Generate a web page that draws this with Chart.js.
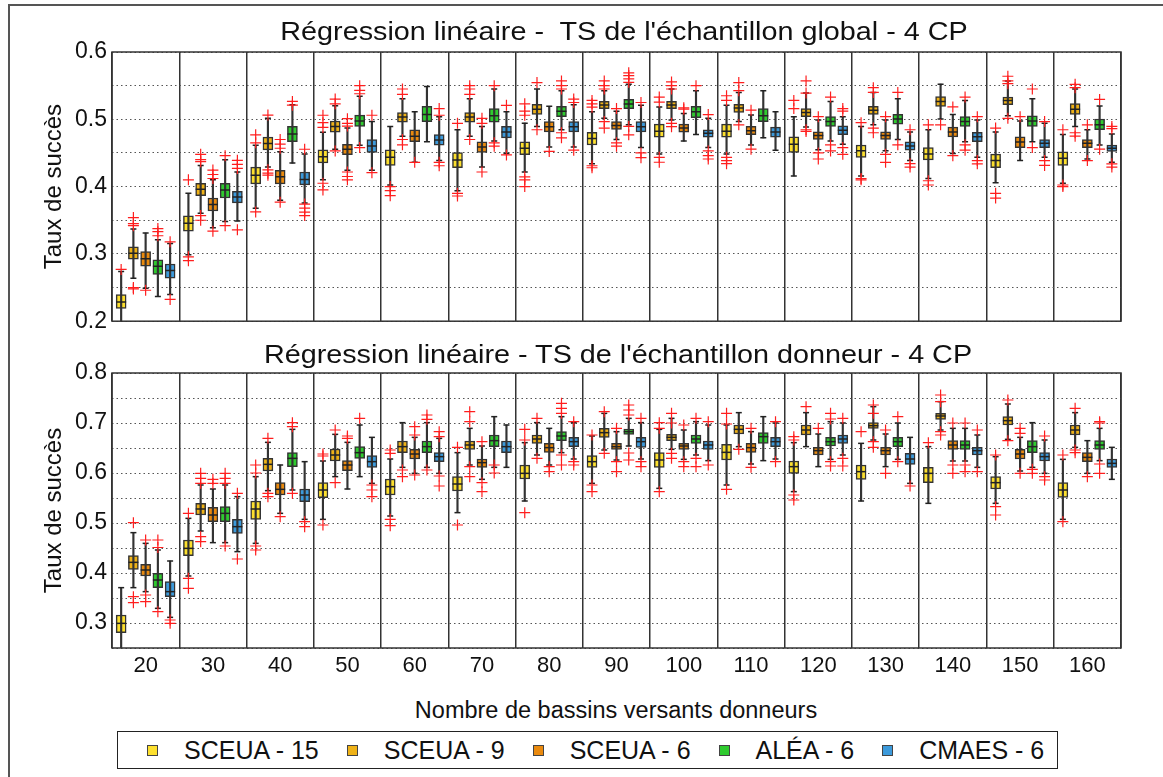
<!DOCTYPE html>
<html>
<head>
<meta charset="utf-8">
<script src="https://cdn.jsdelivr.net/npm/chart.js@4.4.0/dist/chart.umd.min.js"></script>
<style>
  html, body { margin:0; padding:0; background:#fff; width:1163px; height:777px; overflow:hidden; position:relative;
    font-family:'Liberation Sans', Arial, sans-serif; color:#111; }
  #frame { position:absolute; left:8px; top:4px; width:1180px; height:800px; border:2px solid #555; }
  canvas { position:absolute; left:0; }
  .title { position:absolute; white-space:pre; font-size:25px; line-height:29px; transform:translateX(-50%) scaleX(1.15); }
  #xlabel { position:absolute; left:616px; top:697px; font-size:23.5px; line-height:27px; white-space:pre; transform:translateX(-50%); }
  #legend { position:absolute; left:117px; top:731px; width:941px; height:38px; box-sizing:border-box; border:1.5px solid #222;
    display:flex; align-items:center; padding-left:29px; background:#fff; }
  #legend .item { display:flex; align-items:center; margin-right:28px; font-size:25px; white-space:pre; }
  #legend .item i { display:block; width:11px; height:11px; box-sizing:border-box; border:1px solid #444; margin-right:26px; }
</style>
</head>
<body>
<div id="frame"></div>
<canvas id="topChart" width="1163" height="340" style="top:0"></canvas>
<canvas id="bottomChart" width="1163" height="340" style="top:340px"></canvas>
<div class="title" style="left:624px; top:17px">Régression linéaire -  TS de l'échantillon global - 4 CP</div>
<div class="title" style="left:618px; top:340px">Régression linéaire - TS de l'échantillon donneur - 4 CP</div>
<div id="xlabel">Nombre de bassins versants donneurs</div>
<div id="legend"></div>

<script>
// groups and series
const groups = ['20', '30', '40', '50', '60', '70', '80', '90', '100', '110', '120', '130', '140', '150', '160'];
const seriesNames = ['SCEUA - 15', 'SCEUA - 9', 'SCEUA - 6', 'ALÉA - 6', 'CMAES - 6'];
const seriesColors = ['#fde02e', '#efb217', '#ea8a0e', '#2fcb2f', '#3c9adb'];

const topTicks = [0.2, 0.3, 0.4, 0.5, 0.6];
const bottomTicks = [0.3, 0.4, 0.5, 0.6, 0.7, 0.8];

// top panel : TS de l'échantillon global (one row per series, one value per group)
const topLow = [
  [0.19, 0.2986, 0.3677, 0.41, 0.4024, 0.3937, 0.4217, 0.4338, 0.4483, 0.4483, 0.4159, 0.4159, 0.4121, 0.4058, 0.4048],
  [0.2638, 0.3604, 0.429, 0.4555, 0.4749, 0.4749, 0.4894, 0.5014, 0.499, 0.4966, 0.4884, 0.4918, 0.5005, 0.5053, 0.4894],
  [0.249, 0.3387, 0.3797, 0.4242, 0.4362, 0.429, 0.4589, 0.47, 0.4676, 0.4618, 0.4546, 0.4531, 0.4493, 0.4386, 0.441],
  [0.2367, 0.348, 0.435, 0.4613, 0.4667, 0.4676, 0.4845, 0.4918, 0.4773, 0.4725, 0.4676, 0.47, 0.4667, 0.4667, 0.4618],
  [0.2396, 0.349, 0.3758, 0.4242, 0.4386, 0.4493, 0.4589, 0.458, 0.458, 0.4541, 0.4628, 0.4386, 0.4435, 0.4435, 0.4362]
];
const topQ1 = [
  [0.219, 0.3338, 0.404, 0.4352, 0.4314, 0.428, 0.4473, 0.4618, 0.4734, 0.4734, 0.4507, 0.4435, 0.4396, 0.428, 0.4314],
  [0.2923, 0.3865, 0.4546, 0.4807, 0.4957, 0.4957, 0.5072, 0.5159, 0.5159, 0.5101, 0.5039, 0.5072, 0.5193, 0.5217, 0.5072],
  [0.2816, 0.3638, 0.404, 0.4474, 0.4667, 0.4507, 0.4812, 0.485, 0.4807, 0.4773, 0.47, 0.47, 0.4739, 0.458, 0.458],
  [0.2696, 0.383, 0.4667, 0.4894, 0.4966, 0.4957, 0.5039, 0.5159, 0.5024, 0.4966, 0.4894, 0.4928, 0.4894, 0.4894, 0.4845],
  [0.2638, 0.3758, 0.4025, 0.4507, 0.4614, 0.4725, 0.4812, 0.4812, 0.4734, 0.4734, 0.4773, 0.4541, 0.4667, 0.458, 0.4522]
];
const topMed = [
  [0.2286, 0.3454, 0.417, 0.4445, 0.4435, 0.4396, 0.457, 0.4715, 0.4821, 0.4821, 0.4628, 0.4531, 0.4483, 0.4386, 0.442],
  [0.301, 0.396, 0.4642, 0.4894, 0.5034, 0.5034, 0.515, 0.5213, 0.5213, 0.5169, 0.5101, 0.5135, 0.5266, 0.528, 0.515],
  [0.2928, 0.3735, 0.4145, 0.4555, 0.4749, 0.4589, 0.4889, 0.4908, 0.487, 0.4831, 0.4758, 0.4758, 0.4812, 0.4662, 0.4643],
  [0.2816, 0.395, 0.478, 0.4975, 0.5072, 0.5053, 0.5121, 0.5227, 0.5111, 0.5053, 0.4966, 0.5005, 0.4966, 0.4976, 0.4918],
  [0.2754, 0.3845, 0.4106, 0.4604, 0.4691, 0.4812, 0.4889, 0.4889, 0.4792, 0.4812, 0.4836, 0.4604, 0.4739, 0.4643, 0.457]
];
const topQ3 = [
  [0.2396, 0.3565, 0.429, 0.4546, 0.4546, 0.4507, 0.4667, 0.4807, 0.4928, 0.4928, 0.4739, 0.4618, 0.458, 0.4483, 0.4517],
  [0.3106, 0.4048, 0.4735, 0.4975, 0.5101, 0.5101, 0.5222, 0.5266, 0.5266, 0.5222, 0.5159, 0.5193, 0.5338, 0.5329, 0.5232],
  [0.3033, 0.383, 0.4242, 0.4628, 0.4845, 0.4667, 0.4966, 0.4966, 0.4928, 0.4894, 0.4812, 0.4812, 0.4884, 0.4739, 0.47],
  [0.2913, 0.4048, 0.4894, 0.5063, 0.5193, 0.5159, 0.5193, 0.5295, 0.5193, 0.5159, 0.5039, 0.5072, 0.5039, 0.5053, 0.5005],
  [0.285, 0.3928, 0.4217, 0.47, 0.4773, 0.4894, 0.4966, 0.4966, 0.4845, 0.4884, 0.4903, 0.4667, 0.4807, 0.47, 0.4618]
];
const topHigh = [
  [0.274, 0.39, 0.4613, 0.4807, 0.4894, 0.4845, 0.4942, 0.5111, 0.5184, 0.5208, 0.5039, 0.4894, 0.4845, 0.4812, 0.4773],
  [0.337, 0.4314, 0.5014, 0.52, 0.5304, 0.5304, 0.5449, 0.5425, 0.5449, 0.54, 0.5391, 0.54, 0.5522, 0.557, 0.5449],
  [0.331, 0.41, 0.4517, 0.487, 0.5111, 0.4894, 0.5193, 0.5121, 0.5087, 0.5063, 0.499, 0.499, 0.5072, 0.4976, 0.4845],
  [0.321, 0.44, 0.5217, 0.5343, 0.5488, 0.5449, 0.5425, 0.5522, 0.5425, 0.5425, 0.5266, 0.5304, 0.528, 0.5304, 0.5198],
  [0.3155, 0.4217, 0.4483, 0.4967, 0.5039, 0.5111, 0.5217, 0.5208, 0.5014, 0.5111, 0.5039, 0.4812, 0.499, 0.4942, 0.4783]
];
const topOut = [
  [[0.277], [0.41, 0.2957, 0.29], [0.477, 0.465, 0.3623], [0.506, 0.495, 0.488, 0.405, 0.395], [0.4, 0.394, 0.3865],
   [0.494, 0.39, 0.386], [0.523, 0.512, 0.506, 0.4145, 0.41, 0.4], [0.528, 0.523, 0.518, 0.431, 0.428], [0.533, 0.5256, 0.4435, 0.4362],
   [0.535, 0.528, 0.4435, 0.4386, 0.434], [0.528, 0.516], [0.495, 0.412, 0.41], [0.4918, 0.4087, 0.4024], [0.487, 0.39, 0.383], [0.4845, 0.4024, 0.4]],
  [[0.354, 0.345, 0.342, 0.25, 0.248], [0.448, 0.44, 0.437, 0.357, 0.35], [0.5063, 0.425, 0.42, 0.417], [0.53, 0.523, 0.453], [0.545, 0.537, 0.47, 0.462],
   [0.55, 0.545, 0.537, 0.47], [0.5546, 0.4845], [0.557, 0.55, 0.545, 0.4966, 0.487], [0.5556, 0.55, 0.545, 0.494, 0.489],
   [0.5546, 0.5425, 0.4918], [0.557, 0.539, 0.4845, 0.482], [0.547, 0.54, 0.487, 0.48], [0.4918], [0.564, 0.557, 0.553, 0.5014], [0.552, 0.547, 0.48, 0.475]],
  [[0.246], [0.4246, 0.418, 0.412, 0.3338], [0.47, 0.463, 0.457, 0.3768], [0.501, 0.494, 0.49, 0.4217, 0.415, 0.41], [0.436],
   [0.5014, 0.494, 0.4217], [0.4522], [0.516, 0.465, 0.46], [0.517, 0.515], [0.5135, 0.4556], [0.5039, 0.45, 0.441],
   [0.5039, 0.448, 0.436], [0.5184, 0.4459], [0.5039], [0.4918, 0.4386]],
  [[0.3377, 0.333, 0.327], [0.446, 0.342], [0.5265, 0.521], [0.55, 0.543, 0.538, 0.458], [], [0.55, 0.465, 0.46],
   [0.557, 0.55, 0.545, 0.48, 0.4725], [0.569, 0.565, 0.56, 0.555, 0.4894, 0.477], [0.55], [], [0.533, 0.462, 0.453],
   [0.54, 0.462], [0.533, 0.462, 0.4541], [0.545, 0.458], [0.5295, 0.4556]],
  [[0.318, 0.2323], [0.439, 0.433, 0.427, 0.3358], [0.4555, 0.374, 0.368, 0.362, 0.357], [0.506, 0.4207], [0.516, 0.506, 0.436, 0.431],
   [0.5208, 0.447], [0.53, 0.525, 0.4541], [0.525, 0.45, 0.443], [0.507, 0.453, 0.446, 0.441], [], [0.516, 0.512, 0.458, 0.448],
   [0.4845, 0.434, 0.429], [0.5039, 0.4386, 0.4338], [0.4966, 0.4386, 0.4314], [0.4894, 0.486, 0.4338, 0.429]]
];

// bottom panel : TS de l'échantillon donneur
const botLow = [
  [0.24, 0.394, 0.4593, 0.5073, 0.514, 0.5207, 0.544, 0.5793, 0.5693, 0.576, 0.5627, 0.544, 0.5393, 0.5393, 0.5073],
  [0.3707, 0.484, 0.5647, 0.5927, 0.6113, 0.616, 0.636, 0.646, 0.6473, 0.6527, 0.6527, 0.666, 0.686, 0.6673, 0.6513],
  [0.3627, 0.4607, 0.5193, 0.568, 0.5993, 0.5873, 0.616, 0.626, 0.6273, 0.618, 0.6127, 0.6127, 0.624, 0.604, 0.5993],
  [0.3293, 0.4607, 0.566, 0.5927, 0.6113, 0.6113, 0.6407, 0.654, 0.636, 0.6247, 0.6273, 0.6273, 0.624, 0.6113, 0.6247],
  [0.3113, 0.4427, 0.5073, 0.5793, 0.5993, 0.6113, 0.628, 0.628, 0.6247, 0.628, 0.636, 0.5793, 0.6113, 0.5993, 0.5873]
];
const botQ1 = [
  [0.2807, 0.4347, 0.5073, 0.5507, 0.556, 0.564, 0.588, 0.6113, 0.6113, 0.626, 0.5993, 0.5873, 0.5807, 0.568, 0.5513],
  [0.4073, 0.516, 0.604, 0.624, 0.6407, 0.6473, 0.6593, 0.6713, 0.6647, 0.678, 0.676, 0.6893, 0.7073, 0.696, 0.676],
  [0.394, 0.5027, 0.556, 0.6047, 0.628, 0.6113, 0.6413, 0.6473, 0.6473, 0.6413, 0.636, 0.636, 0.6473, 0.628, 0.6227],
  [0.3707, 0.5027, 0.6127, 0.6293, 0.6407, 0.6527, 0.6647, 0.6773, 0.6593, 0.6593, 0.654, 0.6527, 0.6473, 0.6407, 0.6473],
  [0.3527, 0.4793, 0.5427, 0.6113, 0.6227, 0.6407, 0.6527, 0.6513, 0.6473, 0.6527, 0.6593, 0.6173, 0.636, 0.624, 0.6113]
];
const botMed = [
  [0.2993, 0.4493, 0.528, 0.566, 0.5727, 0.578, 0.5993, 0.6227, 0.626, 0.6413, 0.6127, 0.6027, 0.5993, 0.5807, 0.566],
  [0.4213, 0.528, 0.6173, 0.636, 0.6527, 0.656, 0.668, 0.6807, 0.6713, 0.6873, 0.686, 0.6947, 0.714, 0.7047, 0.686],
  [0.406, 0.516, 0.5673, 0.616, 0.638, 0.6207, 0.6507, 0.6527, 0.654, 0.6507, 0.6447, 0.6447, 0.656, 0.638, 0.6313],
  [0.386, 0.5193, 0.6293, 0.6407, 0.6527, 0.6647, 0.674, 0.6827, 0.668, 0.6727, 0.6627, 0.6627, 0.656, 0.6527, 0.656],
  [0.3627, 0.4927, 0.556, 0.6227, 0.6327, 0.6527, 0.6627, 0.6627, 0.656, 0.6627, 0.668, 0.628, 0.6447, 0.6327, 0.6193]
];
const botQ3 = [
  [0.316, 0.466, 0.544, 0.5807, 0.588, 0.5927, 0.616, 0.6347, 0.6407, 0.6573, 0.624, 0.616, 0.6113, 0.5927, 0.5807],
  [0.4347, 0.5393, 0.6293, 0.648, 0.664, 0.664, 0.676, 0.6893, 0.6773, 0.696, 0.696, 0.7007, 0.7193, 0.7127, 0.696],
  [0.4173, 0.5313, 0.5807, 0.6247, 0.6473, 0.628, 0.6593, 0.6593, 0.6593, 0.6593, 0.6513, 0.6513, 0.6647, 0.6473, 0.6407],
  [0.3993, 0.5327, 0.6407, 0.6527, 0.664, 0.676, 0.6827, 0.688, 0.676, 0.6807, 0.6713, 0.6713, 0.6647, 0.6647, 0.6647],
  [0.3827, 0.5073, 0.568, 0.6347, 0.6407, 0.664, 0.6713, 0.6713, 0.664, 0.6713, 0.676, 0.6393, 0.6513, 0.6407, 0.628]
];
const botHigh = [
  [0.3707, 0.5093, 0.5927, 0.624, 0.628, 0.6407, 0.6607, 0.674, 0.6873, 0.696, 0.6607, 0.6593, 0.6527, 0.6327, 0.6273],
  [0.4807, 0.576, 0.6613, 0.6773, 0.7007, 0.6893, 0.7007, 0.7193, 0.7093, 0.7207, 0.7207, 0.7327, 0.7427, 0.738, 0.7207],
  [0.4593, 0.568, 0.616, 0.6613, 0.6713, 0.654, 0.6893, 0.6827, 0.686, 0.6827, 0.678, 0.678, 0.6893, 0.6713, 0.6647],
  [0.446, 0.576, 0.6873, 0.696, 0.7007, 0.7127, 0.7127, 0.7093, 0.7027, 0.7127, 0.7027, 0.7, 0.6893, 0.7007, 0.6893],
  [0.424, 0.5527, 0.6227, 0.6713, 0.6693, 0.696, 0.7007, 0.7007, 0.696, 0.7, 0.7, 0.6713, 0.676, 0.666, 0.6513]
];
const botOut = [
  [[], [0.5193, 0.3893, 0.3693], [0.616, 0.6, 0.454, 0.446], [0.638, 0.634, 0.496], [0.646, 0.6393, 0.5073, 0.4947],
   [0.6513, 0.496], [0.6873, 0.666, 0.5207], [0.676, 0.576, 0.5627], [0.7007, 0.6893, 0.5627], [0.7193, 0.698, 0.5673],
   [0.6727, 0.666, 0.556, 0.546], [0.6827], [0.6607], [0.636, 0.5327, 0.516], [0.636, 0.5027]],
  [[0.5007, 0.3527, 0.3407], [0.5993, 0.5893, 0.5793, 0.4727, 0.4627], [0.6693, 0.5593, 0.5527], [0.686, 0.5807], [0.606, 0.5927],
   [0.7227, 0.7027, 0.6127, 0.5927], [0.7093, 0.6293], [0.7227, 0.6393], [0.7193, 0.7, 0.6393, 0.6293], [0.6473], [0.7327],
   [0.736, 0.7193, 0.6627, 0.6513], [0.756, 0.7427, 0.6827, 0.676], [0.746, 0.6647], [0.7293, 0.646, 0.6407]],
  [[0.466, 0.356, 0.3427], [0.5873, 0.5793], [0.5127], [0.674, 0.6693], [0.6927, 0.676, 0.596], [0.6627, 0.5807, 0.5627],
   [0.6127, 0.6027], [0.6893, 0.6227, 0.6027], [0.696, 0.6227, 0.6127], [0.6893, 0.6113], [0.6893], [0.686, 0.5993],
   [0.7, 0.616, 0.5993], [0.6893, 0.6793, 0.5993], [0.5927]],
  [[0.466, 0.451, 0.3227], [0.5993, 0.5893, 0.5793, 0.454], [0.7007, 0.6927, 0.5593], [0.7093], [0.716, 0.7073, 0.606], [0.616, 0.6],
   [0.7393, 0.7293, 0.7193, 0.636, 0.616], [0.736, 0.726, 0.716, 0.64, 0.626], [0.7093, 0.6293, 0.6127], [], [0.7193, 0.708, 0.6227, 0.614],
   [0.7127, 0.6227], [0.7, 0.616, 0.6027], [0.6073, 0.5993], [0.7027, 0.7, 0.618, 0.5993]],
  [[0.306, 0.2993], [0.5593, 0.428], [0.5027, 0.4927], [0.576, 0.566, 0.5527], [0.6827, 0.6727, 0.594, 0.574], [],
   [0.7027, 0.6227, 0.616], [0.7093, 0.6227, 0.6127], [0.7027, 0.616], [0.7027, 0.6227], [0.7093, 0.6293, 0.614], [0.574],
   [0.686, 0.6027], [0.674, 0.5927, 0.586], []]
];

Chart.defaults.font.family = "'Liberation Sans', Arial, sans-serif";
Chart.defaults.color = '#111';

const SLOT = 0.182;   // distance between two boxes of a group, in group units
const xPos = (i, k) => i + (k - 2) * SLOT;

// box plots : floating bars for boxes and whiskers, points for medians, caps and outliers
function buildDatasets(low, q1, med, q3, high, out) {
  const outliers = [], caps = [], medians = [], whiskers = [], boxes = [];
  seriesNames.forEach((name, k) => {
    const outPts = [];
    out[k].forEach((vals, i) => vals.forEach(v => outPts.push({ x: xPos(i, k), y: v })));
    outliers.push({
      type: 'scatter', data: outPts,
      pointStyle: 'cross', pointRadius: 5.5, pointHoverRadius: 5.5,
      pointBorderColor: '#ff1e1e', pointBorderWidth: 1.2
    });
    const capPts = [];
    groups.forEach((g, i) => {
      capPts.push({ x: xPos(i, k), y: low[k][i] });
      capPts.push({ x: xPos(i, k), y: high[k][i] });
    });
    caps.push({
      type: 'scatter', data: capPts,
      pointStyle: 'line', pointRadius: 3, pointHoverRadius: 3,
      pointBorderColor: '#222', pointBorderWidth: 1.5
    });
    medians.push({
      type: 'scatter',
      data: groups.map((g, i) => ({ x: xPos(i, k), y: med[k][i] })),
      pointStyle: 'line', pointRadius: 5, pointHoverRadius: 5,
      pointBorderColor: '#222', pointBorderWidth: 1.5
    });
    whiskers.push({
      type: 'bar', grouped: false,
      data: groups.map((g, i) => ({ x: xPos(i, k), y: [low[k][i], high[k][i]] })),
      backgroundColor: '#333', borderWidth: 0,
      barThickness: 1.5, maxBarThickness: 1.5
    });
    boxes.push({
      type: 'bar', grouped: false, label: name,
      data: groups.map((g, i) => ({ x: xPos(i, k), y: [q1[k][i], q3[k][i]] })),
      backgroundColor: seriesColors[k], borderColor: '#333', borderWidth: 1.5, borderSkipped: false,
      barThickness: 10, maxBarThickness: 10
    });
  });
  // first dataset is drawn last (on top)
  return [...outliers, ...caps, ...medians, ...whiskers, ...boxes];
}

// frame round the plot area
const frame = {
  id: 'frame',
  afterDraw(chart) {
    const { ctx, chartArea: a } = chart;
    ctx.save();
    ctx.strokeStyle = '#333';
    ctx.lineWidth = 1.5;
    ctx.strokeRect(a.left, a.top, a.right - a.left, a.bottom - a.top);
    ctx.restore();
  }
};

function makeChart(id, datasets, yMin, yMax, tickLabels, showX, padTop, padBottom, xHeight) {
  return new Chart(document.getElementById(id), {
    type: 'bar',
    data: { datasets: datasets },
    options: {
      responsive: false,
      animation: false,
      events: [],
      layout: { padding: { left: 38, right: 42, top: padTop, bottom: padBottom } },
      plugins: { legend: { display: false }, tooltip: { enabled: false } },
      scales: {
        x: {
          type: 'linear', min: -0.5, max: groups.length - 0.5, offset: false,
          afterBuildTicks: s => { s.ticks = groups.map((g, i) => ({ value: i })); },
          grid: { offset: true, color: '#333', lineWidth: 1.5, drawTicks: false },
          border: { display: false },
          ticks: {
            display: showX, color: '#111', font: { size: 22 }, padding: 5, maxRotation: 0, autoSkip: false,
            callback: (v, i) => groups[i]
          },
          afterFit: s => { s.height = xHeight; }
        },
        y: {
          type: 'linear', stacked: false, min: yMin, max: yMax,
          ticks: {
            stepSize: 0.05, autoSkip: false, color: '#111', font: { size: 23 }, padding: 5,
            callback: v => {
              const t = tickLabels.find(t => Math.abs(t - v) < 1e-6);
              return t === undefined ? '' : t.toFixed(1);
            }
          },
          grid: { color: '#555', lineWidth: 1, drawTicks: false },
          border: { display: false, dash: [1.5, 3] },
          title: { display: true, text: 'Taux de succès', color: '#111', font: { size: 24 }, padding: { top: 2, bottom: 0 } },
          afterFit: s => { s.width = 74; }
        }
      }
    },
    plugins: [frame]
  });
}

makeChart('topChart', buildDatasets(topLow, topQ1, topMed, topQ3, topHigh, topOut), 0.2, 0.6, topTicks, false, 52, 12, 0);
makeChart('bottomChart', buildDatasets(botLow, botQ1, botMed, botQ3, botHigh, botOut), 0.25, 0.8, bottomTicks, true, 33, 2, 30);

// legend
const legend = document.getElementById('legend');
seriesNames.forEach((name, k) => {
  const item = document.createElement('span');
  item.className = 'item';
  const mark = document.createElement('i');
  mark.style.background = seriesColors[k];
  item.appendChild(mark);
  item.appendChild(document.createTextNode(name));
  legend.appendChild(item);
});
</script>
</body>
</html>
